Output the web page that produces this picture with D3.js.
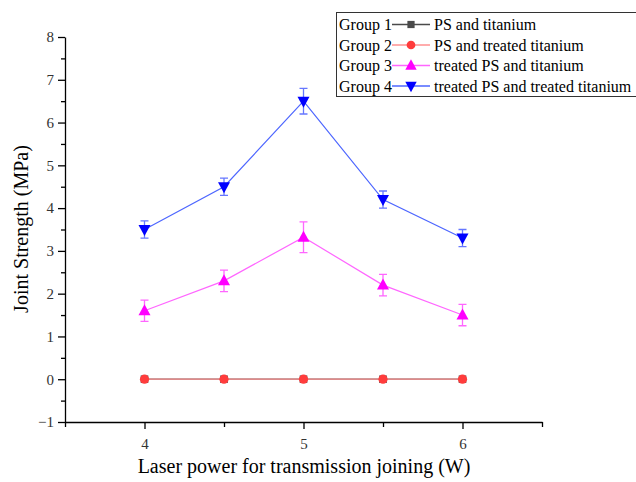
<!DOCTYPE html>
<html><head><meta charset="utf-8">
<script src="https://cdn.jsdelivr.net/npm/d3@7"></script>
<style>body{margin:0;background:#fff}svg{display:block}text{font-family:"Liberation Serif","Times New Roman",serif}</style>
</head><body>
<svg id="c" width="636" height="482"></svg>
<script>
const powers = [4, 4.5, 5, 5.5, 6];
const g1 = [0, 0, 0, 0, 0];
const g1err = [0, 0, 0, 0, 0];
const g2 = [0, 0, 0, 0, 0];
const g2err = [0, 0, 0, 0, 0];
const g3 = [1.6, 2.3, 3.32, 2.2, 1.5];
const g3err = [0.25, 0.25, 0.36, 0.25, 0.25];
const g4 = [3.5, 4.5, 6.5, 4.2, 3.3];
const g4err = [0.2, 0.2, 0.3, 0.2, 0.2];
const groupNames = ["Group 1", "Group 2", "Group 3", "Group 4"];
const groupLabels = ["PS and titanium", "PS and treated titanium", "treated PS and titanium", "treated PS and treated titanium"];
const yTicks = [-1, 0, 1, 2, 3, 4, 5, 6, 7, 8];
const xTicks = [4, 5, 6];

const series = [
  {vals: g1, err: g1err, color: "#4a4a4a", line: "#4a4a4a", errc: "#4a4a4a", sym: "square"},
  {vals: g2, err: g2err, color: "#ff3c3c", line: "#ff9090", errc: "#ff9090", sym: "circle"},
  {vals: g3, err: g3err, color: "#ff00ff", line: "#ff66ff", errc: "#ff66ff", sym: "up"},
  {vals: g4, err: g4err, color: "#0000ff", line: "#4d66ff", errc: "#6677ff", sym: "down"}
];

const svg = d3.select("#c");
const x = d3.scaleLinear().domain([3.5, 6.5]).range([65, 542]);
const y = d3.scaleLinear().domain([-1, 8]).range([422, 37]);

// axes
const xAxis = d3.axisBottom(x).tickValues(xTicks).tickSize(7).tickSizeOuter(0).tickFormat(d3.format("d"));
const gx = svg.append("g").attr("transform", "translate(0,422)").call(xAxis);
gx.selectAll(".tick text").attr("font-size", 15).attr("dy", "1.15em").attr("fill", "#333");
svg.append("g").attr("transform", "translate(0,422)")
  .call(d3.axisBottom(x).tickValues([3.5, 4.5, 5.5, 6.5]).tickSize(5).tickSizeOuter(0).tickFormat(""))
  .select(".domain").remove();
const yAxis = d3.axisLeft(y).tickValues(yTicks).tickSize(7).tickSizeOuter(0).tickFormat(d => d < 0 ? "\u2212" + Math.abs(d) : d);
const gy = svg.append("g").attr("transform", "translate(65,0)").call(yAxis);
gy.selectAll(".tick text").attr("font-size", 15).attr("x", -11).attr("fill", "#333");
svg.append("g").attr("transform", "translate(65,0)")
  .call(d3.axisLeft(y).tickValues(d3.range(-0.5, 8, 1)).tickSize(4).tickSizeOuter(0).tickFormat(""))
  .select(".domain").remove();
svg.selectAll(".domain, .tick line").attr("stroke", "#000").attr("stroke-width", 1.3);

svg.append("text").attr("x", 304).attr("y", 473).attr("text-anchor", "middle").attr("font-size", 20).text("Laser power for transmission joining (W)");
svg.append("text").attr("transform", "translate(28,229) rotate(-90)").attr("text-anchor", "middle").attr("font-size", 20).text("Joint Strength (MPa)");

function drawSym(g, s, cx, cy, scale) {
  const k = scale || 1;
  if (s.sym === "square") g.append("rect").attr("x", cx - 3.8*k).attr("y", cy - 3.8*k).attr("width", 7.6*k).attr("height", 7.6*k).attr("fill", s.color);
  else if (s.sym === "circle") g.append("circle").attr("cx", cx).attr("cy", cy).attr("r", 4.6*k).attr("fill", s.color);
  else if (s.sym === "up") g.append("path").attr("d", `M${cx},${cy-6.5*k}L${cx+6*k},${cy+4.5*k}L${cx-6*k},${cy+4.5*k}Z`).attr("fill", s.color);
  else g.append("path").attr("d", `M${cx},${cy+6.5*k}L${cx+6*k},${cy-4.5*k}L${cx-6*k},${cy-4.5*k}Z`).attr("fill", s.color);
}

series.forEach(s => {
  const g = svg.append("g");
  const line = d3.line().x((d, i) => x(powers[i])).y(d => y(d));
  g.append("path").datum(s.vals).attr("d", line).attr("fill", "none").attr("stroke", s.line).attr("stroke-width", 1.2);
  s.vals.forEach((v, i) => {
    if (s.err[i] > 0) {
      const cx = x(powers[i]);
      const t = y(v + s.err[i]), b = y(v - s.err[i]);
      g.append("path").attr("d", `M${cx},${t}V${b}M${cx-4},${t}H${cx+4}M${cx-4},${b}H${cx+4}`).attr("stroke", s.errc).attr("stroke-width", 1.3).attr("fill", "none");
    }
    drawSym(g, s, x(powers[i]), y(v));
  });
});

// legend
const lg = svg.append("g");
lg.append("rect").attr("x", 336.5).attr("y", 12.5).attr("width", 300).attr("height", 84).attr("fill", "#fff").attr("stroke", "#333").attr("stroke-width", 1);
series.forEach((s, i) => {
  const cy = 24.5 + i * 20.5;
  lg.append("text").attr("x", 339).attr("y", cy + 5.5).attr("font-size", 16).text(groupNames[i]);
  lg.append("line").attr("x1", 392).attr("x2", 430).attr("y1", cy).attr("y2", cy).attr("stroke", s.line).attr("stroke-width", 1.3);
  drawSym(lg, s, 411, cy, 0.95);
  lg.append("text").attr("x", 434).attr("y", cy + 5.5).attr("font-size", 16).text(groupLabels[i]);
});
</script>
</body></html>
